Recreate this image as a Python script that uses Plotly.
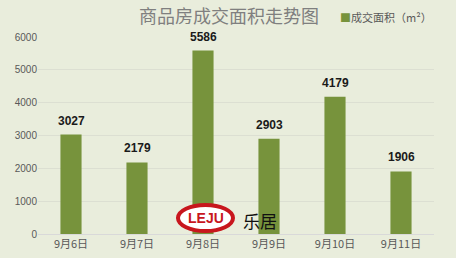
import plotly.graph_objects as go

categories = ["9月6日", "9月7日", "9月8日", "9月9日", "9月10日", "9月11日"]
values = [3027, 2179, 5586, 2903, 4179, 1906]
series_name = "成交面积（m²）"
title_text = "商品房成交面积走势图"
y_ticks = [0, 1000, 2000, 3000, 4000, 5000, 6000]

bg = "#e9eddc"
bar_color = "#77933c"
font_family = "Noto Sans CJK SC, Microsoft YaHei, sans-serif"

L, R, T, B = 38, 22, 37, 24
PW, PH = 456 - L - R, 258 - T - B


def px(x):
    return (x - L) / PW


def py(y):
    return (258 - B - y) / PH


fig = go.Figure()
fig.add_trace(go.Bar(
    x=categories, y=values, name=series_name,
    marker=dict(color=bar_color, line=dict(width=0)),
    width=0.32, showlegend=False,
))

for c, v in zip(categories, values):
    fig.add_annotation(x=c, y=v, text=f"<b>{v}</b>", showarrow=False,
                       yshift=14, font=dict(size=12, color="#1a1a1a", family="Arial"))

# legend (drawn as text)
fig.add_annotation(xref="paper", yref="paper", x=px(338), y=py(17), xanchor="left", yanchor="middle",
                   text=f"<span style='color:{bar_color}'>■</span>{series_name}", showarrow=False,
                   font=dict(size=11, color="#595959", family=font_family))

# watermark logo approximation
fig.add_shape(type="circle", xref="paper", yref="paper", layer="above",
              x0=px(178), x1=px(233), y0=py(231), y1=py(205),
              line=dict(color="#c8161d", width=4), fillcolor="#ffffff")
fig.add_annotation(xref="paper", yref="paper", x=px(205.5), y=py(218), xanchor="center", yanchor="middle",
                   text="<b>LEJU</b>", showarrow=False,
                   font=dict(size=14, color="#c8161d", family="Arial"))
fig.add_annotation(xref="paper", yref="paper", x=px(260), y=py(220), xanchor="center", yanchor="middle",
                   text="乐居", showarrow=False,
                   font=dict(size=17, color="#111111", family=font_family))

fig.update_layout(
    width=456, height=258,
    margin=dict(l=L, r=R, t=T, b=B, autoexpand=False),
    paper_bgcolor=bg, plot_bgcolor=bg,
    showlegend=False,
    title=dict(text=title_text, x=229 / 456, xanchor="center", y=1 - 17 / 258, yanchor="middle",
               font=dict(size=18, color="#7f7f7f", family=font_family)),
    xaxis=dict(showgrid=False, showline=True, linecolor="#d9d9d9", ticks="",
               tickfont=dict(size=11, color="#595959", family=font_family)),
    yaxis=dict(range=[0, 6000], tickvals=y_ticks, showgrid=True, gridcolor="#dcdfd2",
               zeroline=False, ticks="", tickfont=dict(size=10, color="#595959", family="Arial")),
)

fig.write_html("out.html")
